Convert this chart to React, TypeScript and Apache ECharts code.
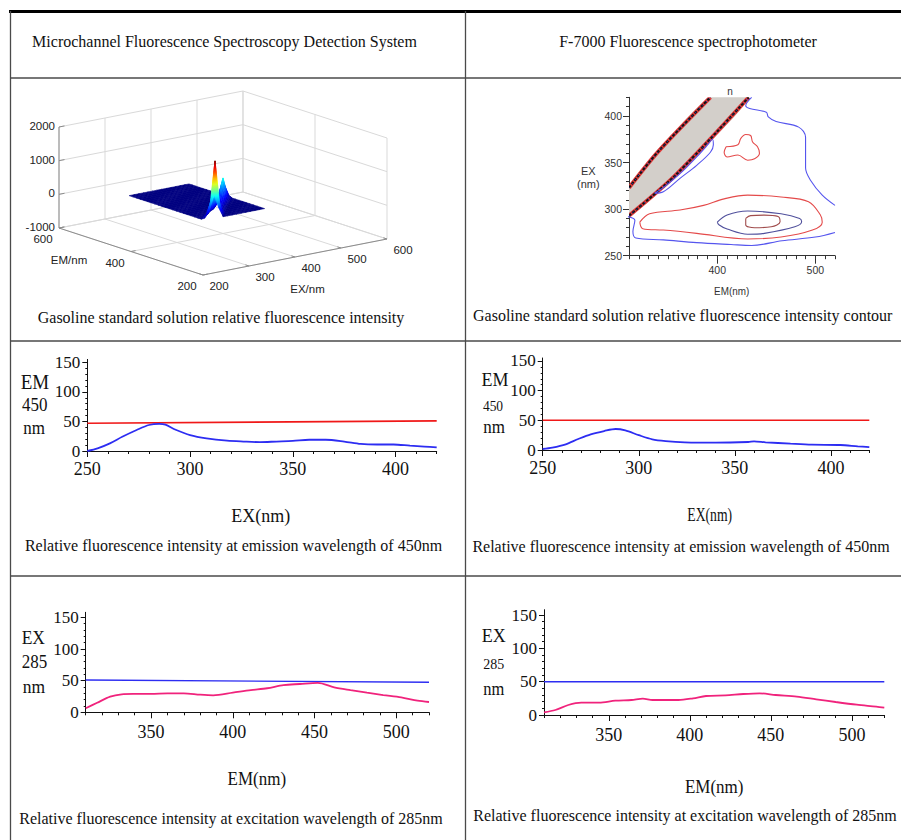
import React, { useEffect, useRef } from "react";
import * as echarts from "echarts";

const SERIF = '"Liberation Serif", "Times New Roman", Times, serif';
const SANS = '"Liberation Sans", Arial, Helvetica, sans-serif';
const NARROW = '"Liberation Sans Narrow", "Arial Narrow", "Liberation Sans", Arial, sans-serif';

// ---------- table text ----------
const HEADER_LEFT = "Microchannel Fluorescence Spectroscopy Detection System";
const HEADER_RIGHT = "F-7000 Fluorescence spectrophotometer";
const CAPTION_SURFACE = "Gasoline standard solution relative fluorescence intensity";
const CAPTION_CONTOUR = "Gasoline standard solution relative fluorescence intensity contour";
const CAPTION_EM450 = "Relative fluorescence intensity at emission wavelength of 450nm";
const CAPTION_EX285 = "Relative fluorescence intensity at excitation wavelength of 285nm";

// ---------- microchannel 3D surface (rows: EX, columns: EM) ----------
const SURF_EM = [310, 320, 330, 340, 350, 360, 370, 380, 390, 400, 410, 420, 430, 440, 450, 460, 470, 480, 490, 500, 510, 520];
const SURF_EX = [290, 300, 310, 320, 330, 340, 350, 360, 370, 380, 390, 400, 410, 420];
const SURF_Z = [
  [60, 0, 0, 0, 0, 0, 0, 0, 0, 0, 0, 0, 0, 0, 0, 0, 0, 0, 0, 0, 0, 0],
  [250, 80, 0, 0, 0, 0, 0, 0, 0, 0, 0, 0, 0, 0, 0, 0, 0, 0, 0, 0, 0, 0],
  [700, 420, 40, 0, 0, 0, 0, 0, 0, 0, 0, 0, 0, 0, 0, 0, 0, 0, 0, 0, 0, 0],
  [300, 1650, 500, 0, 0, 0, 0, 0, 0, 0, 0, 0, 0, 0, 0, 0, 0, 0, 0, 0, 0, 0],
  [0, 350, 900, 150, 0, 0, 0, 0, 0, 0, 0, 0, 0, 0, 0, 0, 0, 0, 0, 0, 0, 0],
  [0, 0, 150, 420, 60, 0, 0, 0, 0, 0, 0, 0, 0, 0, 0, 0, 0, 0, 0, 0, 0, 0],
  [0, 0, 0, 80, 260, 40, 0, 0, 0, 0, 0, 0, 0, 0, 0, 0, 0, 0, 0, 0, 0, 0],
  [0, 0, 0, 0, 60, 220, 40, 0, 0, 0, 0, 0, 0, 0, 0, 0, 0, 0, 0, 0, 0, 0],
  [0, 0, 0, 0, 0, 60, 300, 60, 0, 0, 0, 0, 0, 0, 0, 0, 0, 0, 0, 0, 0, 0],
  [0, 0, 0, 0, 0, 0, 80, 430, 90, 0, 0, 0, 0, 0, 0, 0, 0, 0, 0, 0, 0, 0],
  [0, 0, 0, 0, 0, 0, 0, 120, 560, 150, 0, 0, 0, 0, 0, 0, 0, 0, 0, 0, 0, 0],
  [0, 0, 0, 0, 0, 0, 0, 0, 150, 650, 180, 0, 0, 0, 0, 0, 0, 0, 0, 0, 0, 0],
  [0, 0, 0, 0, 0, 0, 0, 0, 0, 100, 420, 120, 0, 0, 0, 0, 0, 0, 0, 0, 0, 0],
  [0, 0, 0, 0, 0, 0, 0, 0, 0, 0, 60, 250, 60, 0, 0, 0, 0, 0, 0, 0, 0, 0],
];
const BOX_EM_TICKS = [200, 400, 600];
const BOX_EX_TICKS = [200, 300, 400, 500, 600];
const BOX_Z_TICKS = [-1000, 0, 1000, 2000];

// ---------- F-7000 contour map (points are [EM, EX]) ----------
const CONTOUR_EM_TICKS = [400, 500];
const CONTOUR_EX_TICKS = [250, 300, 350, 400];
const SCATTER_UPPER = [[310, 323], [340, 362], [393, 420]];
const SCATTER_LOWER = [[310, 293], [358, 337], [432, 420]];
const CONTOUR_OUTER_A = [[435, 420], [429, 411], [433, 408], [450, 404], [452, 399], [460, 394], [483, 388], [490, 377], [490, 344], [495, 331], [507, 315], [520, 304]];
const CONTOUR_OUTER_B = [[520, 275], [500, 270], [466, 266], [435, 261], [414, 262], [379, 264], [345, 267], [317, 269], [314, 276], [316, 288], [309, 292]];
const CONTOUR_SLIVER = [[336, 317], [345, 323], [362, 338], [379, 356], [391, 370], [395, 375], [396, 369], [393, 361], [379, 347], [362, 333], [345, 318.6], [336, 317]];
const CONTOUR_RED_UPPER = [[409, 367], [421, 369], [424, 376], [429, 380], [434, 379], [436, 372], [441, 367], [443, 360], [438, 354], [431, 352.5], [421, 358], [410, 356], [407, 361], [409, 367]];
const CONTOUR_RED_LOWER = [[321, 286], [331, 295], [362, 299], [386, 304], [407, 311], [431, 315], [465, 313], [493, 308], [505, 294], [507, 286], [497, 277.5], [465, 270], [431, 268], [379, 274], [345, 277.5], [324, 279], [321, 286]];
const CONTOUR_MID = [[400, 286], [410, 293.6], [431, 298], [465, 295], [484, 290], [486, 286.4], [479, 281], [448, 274], [431, 273], [410, 278.6], [402, 283], [400, 286]];
const CONTOUR_CORE = [[429, 290], [434, 293], [448, 293.6], [462, 292], [464, 286.4], [455, 281], [438, 280], [429, 283], [429, 290]];

// ---------- line profiles ----------
const EX_TICKS = [250, 300, 350, 400];
const EM_TICKS = [350, 400, 450, 500];
const INTENSITY_TICKS = [0, 50, 100, 150];

const MICRO_EM450_X = [250, 255, 261, 267, 274, 280, 285, 288, 293, 300, 308, 318, 326, 334, 342, 350, 358, 366, 375, 383, 391, 399, 407, 414, 420];
const MICRO_EM450_Y = [0, 4.5, 13, 24, 35.5, 44, 46, 44.5, 36, 27, 21.5, 17.5, 16, 15, 16, 17, 19, 19, 16, 12, 11, 11, 9, 7.5, 6];
const MICRO_EM450_REF_X = [250, 420];
const MICRO_EM450_REF_Y = [47, 51];

const F7000_EM450_X = [250, 255, 262, 268.5, 275, 282, 288, 293, 300, 307, 314, 324, 340, 357, 360, 366, 379, 390, 405, 414, 420];
const F7000_EM450_Y = [1.7, 4, 9.6, 18.5, 26.4, 32, 35.4, 33, 25, 18, 15, 13, 12.4, 13.5, 14.6, 13, 10.7, 9, 8.4, 6.2, 5];
const F7000_EM450_REF_X = [250, 420];
const F7000_EM450_REF_Y = [50, 50];

const MICRO_EX285_X = [310, 317, 325, 332, 339, 350, 360, 370, 380, 388, 400, 411, 421, 431, 441, 452, 462, 472, 482, 492, 503, 513, 520];
const MICRO_EX285_Y = [6.3, 15, 24.7, 28.4, 29, 29, 30, 30, 27.8, 26.8, 31, 35, 38, 43, 44.7, 46.5, 39.5, 35, 31, 27.3, 23.7, 18.3, 16.3];
const MICRO_EX285_REF_X = [310, 520];
const MICRO_EX285_REF_Y = [51, 47.5];

const F7000_EX285_X = [310, 317, 325, 333, 344, 354, 364, 371, 377, 393, 402, 410, 422, 433, 443, 453, 466, 478, 490, 503, 515, 520];
const F7000_EX285_Y = [4, 7.5, 15, 18.5, 18.5, 21.5, 22.5, 24.5, 22.5, 22.5, 25, 28.5, 29.5, 31.5, 32.5, 30, 27.5, 23.5, 19.5, 15.5, 12.5, 11];
const F7000_EX285_REF_X = [310, 520];
const F7000_EX285_REF_Y = [50, 50];

// ---------- helpers ----------
function range(start: number, end: number, step: number): number[] {
  const out: number[] = [];
  for (let v = start; v <= end + 1e-9; v += step) out.push(Math.round(v * 100) / 100);
  return out;
}
function zip(xs: number[], ys: number[]) {
  return xs.map((x, i) => [x, ys[i]]);
}
function clamp01(v: number) {
  return Math.max(0, Math.min(1, v));
}
function jet(t: number) {
  const u = clamp01(t);
  const r = clamp01(1.5 - Math.abs(4 * u - 3));
  const g = clamp01(1.5 - Math.abs(4 * u - 2));
  const b = clamp01(1.5 - Math.abs(4 * u - 1));
  return `rgb(${Math.round(r * 255)},${Math.round(g * 255)},${Math.round(b * 255)})`;
}

// Oblique view of the box EM 200–600, EX 200–600, intensity -1000–2000
const BOX_ORIGIN = [203, 275];
const BOX_EM_STEP = [-0.36, -0.1175];
const BOX_EX_STEP = [0.46, -0.09];
const BOX_Z_STEP = -101 / 3000;
function proj(em: number, ex: number, z: number) {
  return [
    BOX_ORIGIN[0] + (em - 200) * BOX_EM_STEP[0] + (ex - 200) * BOX_EX_STEP[0],
    BOX_ORIGIN[1] + (em - 200) * BOX_EM_STEP[1] + (ex - 200) * BOX_EX_STEP[1] + (z + 1000) * BOX_Z_STEP,
  ];
}

function text(x: number, y: number, str: string, size: number, family: string, opts: any = {}) {
  const align = opts.align || "center";
  return {
    type: "text",
    x,
    y,
    scaleX: opts.scaleX || 1,
    scaleY: opts.scaleY || 1,
    silent: true,
    style: {
      text: str,
      fontSize: size,
      fontFamily: family,
      fill: opts.color || "#111",
      align,
      textAlign: align,
      verticalAlign: "middle",
      textVerticalAlign: "middle",
    },
  };
}

function buildOption() {
  const grid: any[] = [];
  const xAxis: any[] = [];
  const yAxis: any[] = [];
  const series: any[] = [];
  const graphic: any[] = [];

  function addAxisPair(dim: "x" | "y", gridIndex: number, min: number, max: number, minors: number[], majors: number[], o: any) {
    const list = dim === "x" ? xAxis : yAxis;
    const base = {
      type: "value",
      gridIndex,
      min,
      max,
      position: dim === "x" ? "bottom" : "left",
      splitLine: { show: false },
      axisPointer: { show: false },
    };
    list.push({
      ...base,
      axisLine: { show: true, onZero: false, lineStyle: { color: o.color, width: 1 } },
      axisTick: { show: true, customValues: minors, length: o.minorLen, lineStyle: { color: o.color, width: 1 } },
      axisLabel: { show: false },
    });
    list.push({
      ...base,
      axisLine: { show: false, onZero: false },
      axisTick: { show: true, customValues: majors, length: o.majorLen, lineStyle: { color: o.color, width: 1 } },
      axisLabel: {
        show: true,
        customValues: majors,
        margin: o.margin,
        fontFamily: o.family,
        fontSize: o.size,
        color: o.labelColor || "#111",
      },
    });
    return list.length - 2;
  }

  // ----- grid 0: drawing plane of the 3D box -----
  grid.push({ left: 0, top: 0, width: 901, height: 840, outerBoundsMode: "none" });
  xAxis.push({ type: "value", gridIndex: 0, min: 0, max: 901, show: false });
  yAxis.push({ type: "value", gridIndex: 0, min: 0, max: 840, inverse: true, show: false });

  const GRID_C = "#d9d9d9";
  const AXIS_C = "#8c8c8c";
  const wire: any[] = [];
  BOX_EX_TICKS.forEach((ex) => {
    wire.push({ a: [600, ex, -1000], b: [600, ex, 2000], c: GRID_C });
    wire.push({ a: [200, ex, -1000], b: [600, ex, -1000], c: GRID_C });
  });
  BOX_EM_TICKS.forEach((em) => {
    wire.push({ a: [em, 600, -1000], b: [em, 600, 2000], c: GRID_C });
    wire.push({ a: [em, 200, -1000], b: [em, 600, -1000], c: GRID_C });
  });
  BOX_Z_TICKS.forEach((z) => {
    wire.push({ a: [600, 200, z], b: [600, 600, z], c: GRID_C });
    wire.push({ a: [200, 600, z], b: [600, 600, z], c: GRID_C });
  });
  wire.push({ a: [600, 200, -1000], b: [600, 200, 2000], c: AXIS_C });
  wire.push({ a: [200, 200, -1000], b: [600, 200, -1000], c: AXIS_C });
  wire.push({ a: [200, 200, -1000], b: [200, 600, -1000], c: AXIS_C });
  BOX_Z_TICKS.forEach((z) => wire.push({ a: [600, 200, z], b: [600, 212, z], c: AXIS_C }));
  BOX_EM_TICKS.forEach((em) => wire.push({ a: [em, 200, -1000], b: [em, 210, -1000], c: AXIS_C }));
  BOX_EX_TICKS.forEach((ex) => wire.push({ a: [200, ex, -1000], b: [210, ex, -1000], c: AXIS_C }));

  series.push({
    type: "custom",
    xAxisIndex: 0,
    yAxisIndex: 0,
    clip: false,
    silent: true,
    data: wire.map((_, i) => [i, 0]),
    renderItem: (params: any, api: any) => {
      const w = wire[api.value(0)];
      const p = api.coord(proj(w.a[0], w.a[1], w.a[2]));
      const q = api.coord(proj(w.b[0], w.b[1], w.b[2]));
      return { type: "line", shape: { x1: p[0], y1: p[1], x2: q[0], y2: q[1] }, style: { stroke: w.c, lineWidth: 1 } };
    },
  });

  // surface quads, far to near
  let zMax = 0;
  SURF_Z.forEach((row) => row.forEach((v) => (zMax = Math.max(zMax, v))));
  const quads: any[] = [];
  for (let i = 0; i < SURF_EX.length - 1; i++) {
    for (let j = 0; j < SURF_EM.length - 1; j++) {
      const c = [
        [SURF_EM[j], SURF_EX[i], SURF_Z[i][j]],
        [SURF_EM[j + 1], SURF_EX[i], SURF_Z[i][j + 1]],
        [SURF_EM[j + 1], SURF_EX[i + 1], SURF_Z[i + 1][j + 1]],
        [SURF_EM[j], SURF_EX[i + 1], SURF_Z[i + 1][j]],
      ];
      const depth = 0.1175 * (SURF_EM[j] + SURF_EM[j + 1]) / 2 + 0.09 * (SURF_EX[i] + SURF_EX[i + 1]) / 2;
      quads.push({ c, depth });
    }
  }
  quads.sort((a, b) => b.depth - a.depth);

  series.push({
    type: "custom",
    xAxisIndex: 0,
    yAxisIndex: 0,
    clip: false,
    silent: true,
    data: quads.map((_, i) => [i, 0]),
    renderItem: (params: any, api: any) => {
      const q = quads[api.value(0)];
      const pts = q.c.map((v: number[]) => api.coord(proj(v[0], v[1], v[2])));
      let hi = 0;
      let lo = 0;
      q.c.forEach((v: number[], k: number) => {
        if (v[2] > q.c[hi][2]) hi = k;
        if (v[2] < q.c[lo][2]) lo = k;
      });
      const zHi = q.c[hi][2];
      const zLo = q.c[lo][2];
      let fill: any = jet(zHi / zMax);
      if (zHi - zLo > 1) {
        const stops = [];
        for (let k = 0; k <= 8; k++) {
          stops.push({ offset: k / 8, color: jet((zHi - ((zHi - zLo) * k) / 8) / zMax) });
        }
        fill = new echarts.graphic.LinearGradient(pts[hi][0], pts[hi][1], pts[lo][0], pts[lo][1], stops, true);
      }
      return { type: "polygon", shape: { points: pts }, style: { fill, stroke: fill, lineWidth: 0.6 } };
    },
  });

  const boxLabels: any[] = [];
  BOX_Z_TICKS.forEach((z) => boxLabels.push({ p: [600, 200, z], dx: -4, dy: -1, t: String(z), align: "right" }));
  BOX_EM_TICKS.forEach((em) => boxLabels.push({ p: [em, 200, -1000], dx: -16, dy: 11, t: String(em), align: "center" }));
  BOX_EX_TICKS.forEach((ex) => boxLabels.push({ p: [200, ex, -1000], dx: 16, dy: 10.5, t: String(ex), align: "center" }));
  boxLabels.push({ p: [400, 200, -1000], dx: -62, dy: 8.5, t: "EM/nm", align: "center" });
  boxLabels.push({ p: [200, 400, -1000], dx: 12.5, dy: 32, t: "EX/nm", align: "center" });

  series.push({
    type: "custom",
    xAxisIndex: 0,
    yAxisIndex: 0,
    clip: false,
    silent: true,
    data: boxLabels.map((_, i) => [i, 0]),
    renderItem: (params: any, api: any) => {
      const l = boxLabels[api.value(0)];
      const p = api.coord(proj(l.p[0], l.p[1], l.p[2]));
      return {
        type: "text",
        x: p[0] + l.dx,
        y: p[1] + l.dy,
        style: {
          text: l.t,
          fontSize: 11.5,
          fontFamily: SANS,
          fill: "#222",
          align: l.align,
          textAlign: l.align,
          verticalAlign: "middle",
          textVerticalAlign: "middle",
        },
      };
    },
  });

  // ----- grid 1: F-7000 contour map -----
  grid.push({ left: 629, top: 97.3, width: 206, height: 158.4, outerBoundsMode: "none" });
  const cx = addAxisPair("x", 1, 310, 520, range(310, 520, 10), CONTOUR_EM_TICKS, {
    color: "#333", minorLen: 3.5, majorLen: 8, margin: 9, size: 10.5, family: NARROW, labelColor: "#333",
  });
  const cy = addAxisPair("y", 1, 250, 420, range(250, 420, 10), CONTOUR_EX_TICKS, {
    color: "#333", minorLen: 3, majorLen: 6, margin: 7, size: 10.5, family: NARROW, labelColor: "#333",
  });

  series.push({
    type: "custom",
    xAxisIndex: cx,
    yAxisIndex: cy,
    clip: true,
    silent: true,
    data: [[310, 250]],
    renderItem: (params: any, api: any) => {
      const lower = SCATTER_LOWER.map((p) => api.coord(p));
      const upper = SCATTER_UPPER.map((p) => api.coord(p));
      const poly = [...lower, ...upper.slice().reverse()];
      const edge = (pts: number[][]) => [
        { type: "polyline", shape: { points: pts, smooth: 0.3 }, style: { stroke: "#e03a3a", lineWidth: 4, fill: null } },
        { type: "polyline", shape: { points: pts, smooth: 0.3 }, style: { stroke: "#151515", lineWidth: 2.2, lineDash: [3, 1.5], fill: null } },
        { type: "polyline", shape: { points: pts, smooth: 0.3 }, style: { stroke: "#3b3bd0", lineWidth: 1, lineDash: [1, 4], fill: null } },
      ];
      return {
        type: "group",
        children: [
          { type: "polygon", shape: { points: poly, smooth: 0.3 }, style: { fill: "#d3cfca" } },
          ...edge(lower),
          ...edge(upper),
        ],
      };
    },
  });

  const contourLines: [number[][], string][] = [
    [CONTOUR_OUTER_A, "#5555ee"],
    [CONTOUR_OUTER_B, "#5555ee"],
    [CONTOUR_SLIVER, "#5555ee"],
    [CONTOUR_RED_UPPER, "#e44a4a"],
    [CONTOUR_RED_LOWER, "#e44a4a"],
    [CONTOUR_MID, "#50509c"],
    [CONTOUR_CORE, "#a04c4c"],
  ];
  contourLines.forEach(([pts, color]) => {
    series.push({
      type: "line",
      xAxisIndex: cx,
      yAxisIndex: cy,
      data: pts,
      symbol: "none",
      smooth: 0.35,
      clip: true,
      silent: true,
      lineStyle: { color, width: 1.1 },
    });
  });

  graphic.push(text(588.3, 171, "EX", 11, SANS, { color: "#333" }));
  graphic.push(text(588.3, 184, "(nm)", 11, SANS, { color: "#333" }));
  graphic.push(text(731.7, 291, "EM(nm)", 11, SANS, { color: "#333", scaleX: 0.9 }));
  graphic.push(text(730, 91, "n", 10, SANS, { color: "#333" }));

  // ----- line profile panels -----
  const panels = [
    {
      g: { left: 87.3, top: 359.4, width: 349.4, height: 91.6 },
      x: [250, 420], y: [0, 155], xMajor: EX_TICKS, xMinor: range(250, 420, 10), xMargin: 9,
      lines: [
        { x: MICRO_EM450_REF_X, y: MICRO_EM450_REF_Y, color: "#f01818", w: 1.6 },
        { x: MICRO_EM450_X, y: MICRO_EM450_Y, color: "#2d2df2", w: 1.8 },
      ],
    },
    {
      g: { left: 542.7, top: 358, width: 326.6, height: 92 },
      x: [250, 420], y: [0, 155], xMajor: EX_TICKS, xMinor: range(250, 420, 10), xMargin: 9,
      lines: [
        { x: F7000_EM450_REF_X, y: F7000_EM450_REF_Y, color: "#f01818", w: 1.6 },
        { x: F7000_EM450_X, y: F7000_EM450_Y, color: "#2d2df2", w: 1.8 },
      ],
    },
    {
      g: { left: 85.7, top: 612.3, width: 343.3, height: 100 },
      x: [310, 520], y: [0, 158], xMajor: EM_TICKS, xMinor: range(310, 520, 10), xMargin: 11,
      lines: [
        { x: MICRO_EX285_REF_X, y: MICRO_EX285_REF_Y, color: "#2d2df2", w: 1.4 },
        { x: MICRO_EX285_X, y: MICRO_EX285_Y, color: "#f0237c", w: 1.8 },
      ],
    },
    {
      g: { left: 544, top: 609.7, width: 340.3, height: 105.3 },
      x: [310, 520], y: [0, 158], xMajor: EM_TICKS, xMinor: range(310, 520, 10), xMargin: 11,
      lines: [
        { x: F7000_EX285_REF_X, y: F7000_EX285_REF_Y, color: "#2d2df2", w: 1.4 },
        { x: F7000_EX285_X, y: F7000_EX285_Y, color: "#f0237c", w: 1.8 },
      ],
    },
  ];

  panels.forEach((pn) => {
    const gi = grid.length;
    grid.push({ ...pn.g, outerBoundsMode: "none" });
    const xi = addAxisPair("x", gi, pn.x[0], pn.x[1], pn.xMinor, pn.xMajor, {
      color: "#111", minorLen: 3, majorLen: 6, margin: pn.xMargin, size: 18, family: SERIF,
    });
    const yi = addAxisPair("y", gi, pn.y[0], pn.y[1], range(0, 150, 10), INTENSITY_TICKS, {
      color: "#111", minorLen: 2, majorLen: 5, margin: 7, size: 17, family: SERIF,
    });
    pn.lines.forEach((ln) => {
      series.push({
        type: "line",
        xAxisIndex: xi,
        yAxisIndex: yi,
        data: zip(ln.x, ln.y),
        symbol: "none",
        smooth: 0.3,
        silent: true,
        lineStyle: { color: ln.color, width: ln.w },
      });
    });
  });

  // axis names of the profile panels
  const SY = 1.1;
  graphic.push(text(35, 381.3, "EM", 19, SERIF, { scaleY: SY }));
  graphic.push(text(34.7, 404.7, "450", 17, SERIF, { scaleY: SY }));
  graphic.push(text(34.2, 428, "nm", 17, SERIF, { scaleY: SY }));
  graphic.push(text(260.8, 515.5, "EX(nm)", 18, SERIF, { scaleY: SY }));

  graphic.push(text(495, 379.5, "EM", 18, SERIF, { scaleY: SY }));
  graphic.push(text(493, 405.5, "450", 13.5, SERIF, { scaleY: SY }));
  graphic.push(text(494.2, 427, "nm", 17, SERIF, { scaleY: SY }));
  graphic.push(text(709.7, 515, "EX(nm)", 18, SERIF, { scaleY: SY, scaleX: 0.76 }));

  graphic.push(text(33.3, 637.3, "EX", 17.5, SERIF, { scaleY: SY }));
  graphic.push(text(34.5, 661.7, "285", 17, SERIF, { scaleY: SY }));
  graphic.push(text(33.8, 686.7, "nm", 17.5, SERIF, { scaleY: SY }));
  graphic.push(text(256.8, 778.3, "EM(nm)", 17, SERIF, { scaleY: 1.15 }));

  graphic.push(text(493.7, 635, "EX", 18, SERIF, { scaleY: SY }));
  graphic.push(text(493.8, 664, "285", 14, SERIF, { scaleY: SY }));
  graphic.push(text(493.8, 689, "nm", 16.5, SERIF, { scaleY: SY }));
  graphic.push(text(714.2, 786.7, "EM(nm)", 17, SERIF, { scaleY: 1.15 }));

  // table rules
  const RULE = "#4a4a4a";
  const rule = (x1: number, y1: number, x2: number, y2: number, w: number, c: string) => ({
    type: "line",
    silent: true,
    shape: { x1, y1, x2, y2 },
    style: { stroke: c, lineWidth: w },
  });
  graphic.push(rule(9, 11.5, 901, 11.5, 3, "#000"));
  graphic.push(rule(10.5, 11, 10.5, 840, 1.3, RULE));
  graphic.push(rule(465.5, 11, 465.5, 840, 1.3, RULE));
  graphic.push(rule(10, 78, 901, 78, 1.3, RULE));
  graphic.push(rule(10, 341, 901, 341, 1.3, RULE));
  graphic.push(rule(10, 576, 901, 576, 1.3, RULE));

  // headers and captions
  graphic.push(text(224.5, 41.7, HEADER_LEFT, 16, SERIF));
  graphic.push(text(688, 41.7, HEADER_RIGHT, 16, SERIF));
  graphic.push(text(221, 317, CAPTION_SURFACE, 16, SERIF));
  graphic.push(text(473, 315, CAPTION_CONTOUR, 16, SERIF, { align: "left" }));
  graphic.push(text(233.5, 545.5, CAPTION_EM450, 16, SERIF));
  graphic.push(text(681, 546.5, CAPTION_EM450, 16, SERIF));
  graphic.push(text(231, 818, CAPTION_EX285, 16, SERIF));
  graphic.push(text(685, 815, CAPTION_EX285, 16, SERIF));

  return {
    animation: false,
    backgroundColor: "#ffffff",
    grid,
    xAxis,
    yAxis,
    series,
    graphic,
  };
}

export default function App() {
  const ref = useRef<HTMLDivElement>(null);
  useEffect(() => {
    if (!ref.current) return;
    const chart = echarts.init(ref.current, null, { renderer: "svg" });
    chart.setOption(buildOption() as any);
    return () => chart.dispose();
  }, []);
  return (
    <div
      ref={ref}
      style={{ position: "absolute", left: 0, top: 0, width: 901, height: 840, background: "#fff" }}
    />
  );
}
